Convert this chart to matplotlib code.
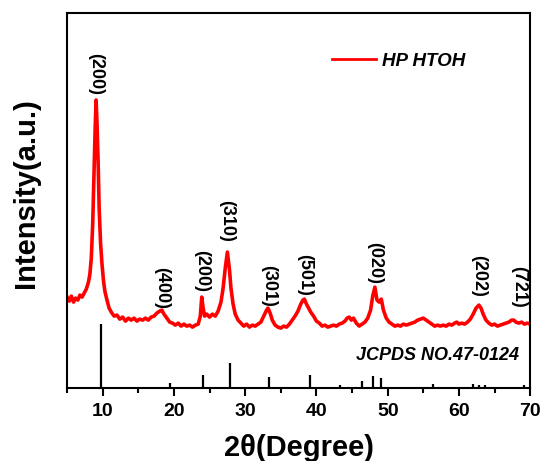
import matplotlib
matplotlib.use("Agg")
import matplotlib.pyplot as plt
from matplotlib.ticker import MultipleLocator

plt.rcParams['font.family'] = ['Liberation Sans', 'DejaVu Sans']
plt.rcParams['font.weight'] = 'bold'

# XRD-Messkurve (2theta, Intensität in willkürlichen Einheiten)
two_theta = [5.0, 5.3, 5.6, 5.9, 6.2, 6.5, 6.8, 7.1, 7.4, 7.7, 8.0, 8.2, 8.4, 8.6, 8.8, 8.95,
             9.07, 9.2, 9.35, 9.5, 9.7, 9.9, 10.1, 10.3, 10.6, 10.9, 11.2, 11.6, 12.0, 12.4,
             12.8, 13.2, 13.6, 14.0, 14.4, 14.8, 15.2, 15.6, 16.0, 16.4, 16.8, 17.2, 17.6,
             18.0, 18.3, 18.6, 19.0, 19.4, 19.8, 20.2, 20.6, 21.0, 21.4, 21.8, 22.2, 22.6,
             23.0, 23.4, 23.7, 23.9, 24.1, 24.3, 24.6, 25.0, 25.4, 25.8, 26.2, 26.6, 26.9,
             27.2, 27.5, 27.8, 28.0, 28.3, 28.6, 29.0, 29.4, 29.8, 30.2, 30.6, 31.0, 31.4,
             31.8, 32.2, 32.6, 33.0, 33.2, 33.5, 33.8, 34.2, 34.6, 35.0, 35.4, 35.8, 36.2,
             36.6, 37.0, 37.4, 37.8, 38.1, 38.3, 38.6, 38.9, 39.2, 39.6, 40.0, 40.4, 40.8,
             41.2, 41.6, 42.0, 42.4, 42.8, 43.2, 43.6, 44.0, 44.3, 44.6, 44.9, 45.2, 45.6,
             46.0, 46.4, 46.8, 47.2, 47.6, 47.9, 48.2, 48.5, 48.8, 49.1, 49.4, 49.8, 50.2,
             50.6, 51.0, 51.4, 51.8, 52.2, 52.6, 53.0, 53.4, 53.8, 54.2, 54.6, 55.0, 55.4,
             55.8, 56.2, 56.6, 57.0, 57.4, 57.8, 58.2, 58.6, 59.0, 59.4, 59.7, 60.0, 60.4,
             60.8, 61.2, 61.6, 62.0, 62.4, 62.8, 63.1, 63.4, 63.8, 64.2, 64.6, 65.0, 65.4,
             65.8, 66.2, 66.6, 67.0, 67.4, 67.7, 68.0, 68.4, 68.8, 69.2, 69.6, 70.0]
intensity = [91, 87, 92, 86, 90, 88, 93, 91, 95, 99, 106, 114, 130, 165, 220, 262,
             288, 265, 228, 180, 145, 124, 108, 97, 88, 80, 76, 72, 73, 69,
             71, 67, 70, 68, 70, 67, 69, 68, 70, 68, 71, 72, 75,
             77, 78, 74, 70, 66, 65, 63, 65, 62, 64, 62, 63, 61,
             63, 64, 72, 91, 80, 72, 74, 71, 74, 72, 77, 86, 100,
             120, 136, 118, 100, 84, 74, 68, 65, 62, 64, 61, 63, 62,
             64, 66, 72, 78, 80, 75, 68, 63, 61, 60, 62, 61, 64,
             68, 72, 77, 84, 88, 89, 84, 80, 76, 72, 67, 65, 62,
             63, 61, 62, 63, 62, 64, 65, 67, 70, 71, 68, 70, 65,
             62, 64, 66, 70, 78, 92, 101, 88, 86, 89, 78, 70, 66,
             64, 62, 63, 62, 64, 63, 64, 65, 66, 68, 69, 70, 68,
             66, 64, 62, 63, 62, 63, 62, 64, 63, 65, 66, 64, 65,
             64, 66, 69, 74, 80, 83, 80, 74, 68, 65, 63, 64, 62,
             63, 64, 65, 66, 68, 68, 66, 65, 66, 64, 65, 64]

# Standardkarte JCPDS 47-0124 (Strichdiagramm)
ref_pos = [9.8, 19.4, 24.1, 27.9, 33.4, 39.1, 43.3, 46.4, 48.0, 49.1, 56.4, 62.0, 62.8, 63.7, 69.2]
ref_int = [64, 5, 13, 25, 11, 13, 3, 7, 12, 10, 4, 4, 3, 3, 3]

# Miller-Indizes für die Peaks
hkl_labels = ['(200)', '(400)', '(200)', '(310)', '(301)', '(501)', '(020)', '(202)', '(721)']
hkl_x = [9.0, 18.2, 23.9, 27.4, 33.3, 38.3, 48.1, 62.7, 68.4]
hkl_y = [314, 100, 117, 167, 102, 113, 125, 112, 101]

fig = plt.figure(figsize=(5.41, 4.61), dpi=100)
ax = fig.add_axes([0.124, 0.158, 0.856, 0.814])

ax.plot(two_theta, intensity, color='#ff0000', lw=2.6, label='HP HTOH')
ax.vlines(ref_pos, 0, ref_int, color='black', lw=1.6)

for lab, xx, yy in zip(hkl_labels, hkl_x, hkl_y):
    ax.text(xx, yy, lab, rotation=-90, ha='center', va='center', fontsize=13, fontweight='bold')

ax.text(68.4, 33, 'JCPDS NO.47-0124', ha='right', va='center', fontsize=13,
        fontweight='bold', fontstyle='italic')

leg = ax.legend(loc='center left', bbox_to_anchor=(0.572, 0.872), frameon=False,
                borderpad=0, borderaxespad=0, handlelength=2.35, handletextpad=0.3,
                prop={'size': 13.5, 'weight': 'bold', 'style': 'italic'})
for l in leg.get_lines():
    l.set_linewidth(2.0)

ax.set_xlim(5, 70)
ax.set_ylim(0, 375)
ax.xaxis.set_major_locator(MultipleLocator(10))
ax.xaxis.set_minor_locator(MultipleLocator(5))
ax.set_yticks([])
ax.tick_params(axis='x', which='major', direction='out', length=6, width=1.5, labelsize=14, pad=5)
ax.tick_params(axis='x', which='minor', direction='out', length=3.5, width=1.5)
for s in ax.spines.values():
    s.set_linewidth(1.5)

ax.set_xlabel('2θ(Degree)', fontsize=21, fontweight='bold', labelpad=10)
ax.set_ylabel('Intensity(a.u.)', fontsize=21, fontweight='bold')
ax.yaxis.set_label_coords(-0.058, 0.52)

plt.savefig('out.png', dpi=100)
